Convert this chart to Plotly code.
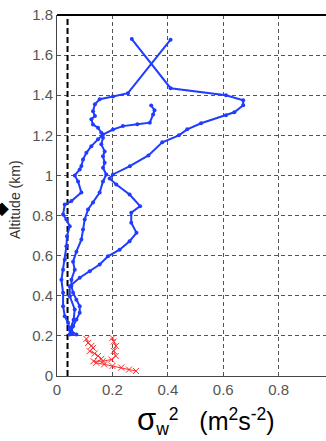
import plotly.graph_objects as go

# ---- data ----
prof1_x = [0.046, 0.046, 0.040, 0.028, 0.022, 0.022, 0.016, 0.022, 0.028, 0.034, 0.036, 0.046,
           0.034, 0.022, 0.028, 0.052, 0.088, 0.076, 0.064, 0.082, 0.088, 0.094, 0.106, 0.124,
           0.148, 0.166, 0.202, 0.238, 0.290, 0.335, 0.347, 0.352, 0.340]
prof1_y = [0.207, 0.232, 0.265, 0.298, 0.348, 0.415, 0.480, 0.530, 0.580, 0.647, 0.697, 0.747,
           0.780, 0.805, 0.855, 0.872, 0.915, 0.970, 1.000, 1.030, 1.047, 1.080, 1.113, 1.146,
           1.180, 1.204, 1.229, 1.246, 1.255, 1.263, 1.304, 1.325, 1.349]

prof2_x = [0.070, 0.052, 0.058, 0.070, 0.082, 0.082, 0.070, 0.058, 0.052, 0.052, 0.064, 0.058,
           0.070, 0.088, 0.094, 0.100, 0.112, 0.130, 0.154, 0.166, 0.178, 0.166, 0.172, 0.166,
           0.172, 0.160, 0.166, 0.160, 0.148, 0.130, 0.124, 0.137, 0.130, 0.137, 0.154, 0.202,
           0.256, 0.410]
prof2_y = [0.207, 0.223, 0.248, 0.282, 0.315, 0.348, 0.380, 0.415, 0.450, 0.480, 0.530, 0.570,
           0.620, 0.680, 0.730, 0.780, 0.830, 0.865, 0.915, 0.970, 1.005, 1.038, 1.063, 1.096,
           1.120, 1.155, 1.188, 1.213, 1.238, 1.254, 1.280, 1.296, 1.320, 1.355, 1.380, 1.394,
           1.410, 1.677]

prof3_x = [0.055, 0.050, 0.060, 0.064, 0.046, 0.046, 0.082, 0.118, 0.154, 0.184, 0.226, 0.262,
           0.287, 0.268, 0.268, 0.300, 0.262, 0.214, 0.190, 0.202, 0.263, 0.330, 0.380, 0.440,
           0.470, 0.520, 0.610, 0.640, 0.672, 0.672, 0.610, 0.410, 0.270]
prof3_y = [0.210, 0.240, 0.280, 0.332, 0.398, 0.448, 0.490, 0.522, 0.556, 0.597, 0.630, 0.672,
           0.714, 0.764, 0.814, 0.847, 0.905, 0.955, 0.985, 1.005, 1.046, 1.100, 1.165, 1.200,
           1.230, 1.260, 1.300, 1.315, 1.350, 1.375, 1.400, 1.435, 1.680]

red_x = [0.285, 0.260, 0.232, 0.200, 0.170, 0.142, 0.132, 0.165, 0.196, 0.212, 0.205, 0.213,
         0.205, 0.200]
red_y = [0.025, 0.032, 0.042, 0.050, 0.058, 0.066, 0.074, 0.074, 0.082, 0.100, 0.125, 0.150,
         0.172, 0.190]
red2_x = [0.160, 0.148, 0.136, 0.118, 0.130, 0.124, 0.112, 0.106]
red2_y = [0.086, 0.100, 0.112, 0.124, 0.140, 0.150, 0.165, 0.185]

ref_line_x = [0.038, 0.038]
ref_line_y = [0.0, 1.8]

x_ticks = [0, 0.2, 0.4, 0.6, 0.8]
y_ticks = [0, 0.2, 0.4, 0.6, 0.8, 1.0, 1.2, 1.4, 1.6, 1.8]

BLUE = "#1f3cff"
RED = "#ff2a2a"

# the page body margin is removed (post_script); plot area at x 57..326, y 15..376
W, H = 326, 441
L, T = 57, 15
PW, PH = W - L, 361
B = H - T - PH


def px_x(page_x):
    return (page_x - L) / PW


def px_y(page_y):
    return (T + PH - page_y) / PH


fig = go.Figure()

fig.add_trace(go.Scatter(x=ref_line_x, y=ref_line_y, mode="lines",
                         line=dict(color="black", width=2, dash="6px,3px"),
                         showlegend=False, hoverinfo="skip"))

for xs, ys in [(prof1_x, prof1_y), (prof2_x, prof2_y), (prof3_x, prof3_y)]:
    fig.add_trace(go.Scatter(x=xs, y=ys, mode="lines+markers",
                             line=dict(color=BLUE, width=2),
                             marker=dict(color=BLUE, size=4, symbol="circle"),
                             showlegend=False))

for xs, ys in [(red_x, red_y), (red2_x, red2_y)]:
    fig.add_trace(go.Scatter(x=xs, y=ys, mode="lines+markers",
                             line=dict(color=RED, width=1),
                             marker=dict(color=RED, size=6, symbol="x-thin-open",
                                         line=dict(color=RED, width=1)),
                             showlegend=False))

axis_font = dict(family="Liberation Sans, Arial, sans-serif", size=15, color="#555555")

fig.update_xaxes(range=[0, 0.971], tickvals=x_ticks, ticktext=[f"{v:g}" for v in x_ticks],
                 showgrid=True, gridcolor="#555555", gridwidth=1, griddash="4px,3px",
                 zeroline=False, showline=True, linecolor="#444444", linewidth=1,
                 ticks="", tickfont=axis_font, automargin=False, ticklabeloverflow="allow")
fig.update_yaxes(range=[0, 1.8], tickvals=y_ticks, ticktext=[f"{v:g}" for v in y_ticks],
                 showgrid=True, gridcolor="#555555", gridwidth=1, griddash="4px,3px",
                 zeroline=False, showline=True, linecolor="#444444", linewidth=1,
                 ticks="", tickfont=axis_font, automargin=False, ticklabeloverflow="allow")

fig.add_shape(type="line", xref="paper", yref="paper", x0=0, x1=1, y0=1, y1=1,
              line=dict(color="black", width=2))

fig.add_annotation(xref="paper", yref="paper", x=px_x(15), y=px_y(200),
                   text="Altitude (km)", textangle=-90, showarrow=False,
                   font=dict(family="Liberation Sans, Arial, sans-serif", size=14, color="#333333"),
                   xanchor="center", yanchor="middle")

fig.add_annotation(xref="paper", yref="paper", x=px_x(206), y=px_y(421),
                   text="<span style='font-size:31px'>σ</span><sub>w</sub><sup>2</sup>"
                        "&nbsp;&nbsp;&nbsp;(m<sup>2</sup>s<sup>-2</sup>)",
                   showarrow=False,
                   font=dict(family="Liberation Sans, Arial, sans-serif", size=25, color="black"),
                   xanchor="center", yanchor="middle")

fig.add_annotation(xref="paper", yref="paper", x=px_x(2), y=px_y(207),
                   text="◆", showarrow=False,
                   font=dict(family="DejaVu Sans, sans-serif", size=18, color="black"),
                   xanchor="center", yanchor="middle")

fig.update_layout(width=W, height=H,
                  margin=dict(l=L, r=0, t=T, b=B, pad=0),
                  paper_bgcolor="white", plot_bgcolor="white",
                  font=dict(family="Liberation Sans, Arial, sans-serif"))

fig.write_html("out.html", config={"displayModeBar": False},
               post_script="document.body.style.margin='0';document.body.style.overflow='hidden';")
